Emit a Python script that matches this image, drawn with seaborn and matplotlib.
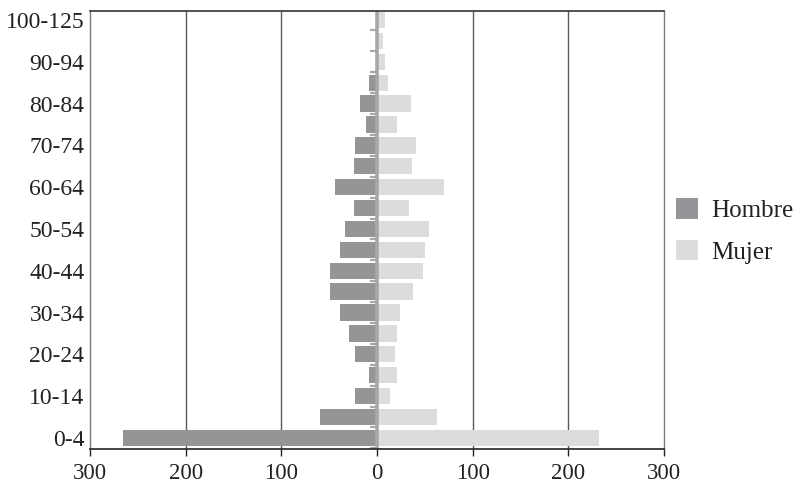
import matplotlib
matplotlib.use("Agg")
import matplotlib.pyplot as plt
import matplotlib.patches as mpatches
from matplotlib.ticker import FuncFormatter
import seaborn as sns
import pandas as pd

ages = ["0-4", "5-9", "10-14", "15-19", "20-24", "25-29", "30-34", "35-39",
        "40-44", "45-49", "50-54", "55-59", "60-64", "65-69", "70-74",
        "75-79", "80-84", "85-89", "90-94", "95-99", "100-125"]
hombre = [265, 60, 23, 8, 23, 29, 39, 49, 49, 39, 33, 24, 44, 24, 23, 12, 18, 8, 0, 0, 0]
mujer = [232, 63, 14, 21, 19, 21, 24, 38, 48, 50, 54, 33, 70, 37, 41, 21, 36, 11, 8, 6, 8]
xticks = [-300, -200, -100, 0, 100, 200, 300]

c_h = "#949598"
c_m = "#dcdcde"

sns.set_theme(style="white")
plt.rcParams["font.family"] = ["Liberation Serif", "DejaVu Serif"]

df = pd.DataFrame({
    "age": ages * 2,
    "sexo": ["Hombre"] * len(ages) + ["Mujer"] * len(ages),
    "valor": [-v for v in hombre] + list(mujer),
})
order = ages[::-1]

fig = plt.figure(figsize=(8.03, 4.92), dpi=100)
ax = fig.add_axes([90 / 803, 1 - 449 / 492, (664 - 90) / 803, (449 - 11) / 492])

sns.barplot(data=df, x="valor", y="age", hue="sexo", order=order,
            hue_order=["Hombre", "Mujer"], palette={"Hombre": c_h, "Mujer": c_m},
            dodge=False, width=0.78, linewidth=0, ax=ax, zorder=3)

n = len(ages)
ax.set_xlim(-300, 300)
ax.set_ylim(n - 0.47, -0.43)

for gx in [-200, -100, 100, 200]:
    ax.axvline(gx, color="#5a5a5a", lw=1.0, zorder=1)
ax.axvline(0, color="#a7a7aa", lw=2.6, zorder=4)
ax.hlines([k - 0.5 for k in range(n + 1)], -7, 0, color="#a7a7aa", lw=1.6, zorder=4)

ax.set_xticks(xticks)
ax.xaxis.set_major_formatter(FuncFormatter(lambda v, p: f"{abs(int(v))}"))
ax.tick_params(axis="x", direction="out", length=5, width=1, color="#222222",
               labelsize=16.5, pad=5, bottom=True, labelcolor="#222222")

ypos = [order.index(a) for a in ages[::2]]
ax.set_yticks(ypos)
ax.set_yticklabels(ages[::2])
ax.tick_params(axis="y", length=0, labelsize=17, pad=4, labelcolor="#222222")

ax.set_xlabel("")
ax.set_ylabel("")

for s in ["left", "right"]:
    ax.spines[s].set_color("#7a7a7a")
    ax.spines[s].set_linewidth(1.0)
ax.spines["top"].set_color("#333333")
ax.spines["top"].set_linewidth(1.2)
ax.spines["bottom"].set_color("#222222")
ax.spines["bottom"].set_linewidth(1.2)
for s in ax.spines.values():
    s.set_zorder(5)

if ax.get_legend() is not None:
    ax.get_legend().remove()
handles = [mpatches.Patch(facecolor=c_h, edgecolor="none"),
           mpatches.Patch(facecolor=c_m, edgecolor="none")]
fig.legend(handles, ["Hombre", "Mujer"], loc="center left",
           bbox_to_anchor=(674 / 803, 1 - 231 / 492), frameon=False,
           fontsize=18, handlelength=0.88, handleheight=0.88,
           handletextpad=0.52, labelspacing=0.7, borderaxespad=0, borderpad=0.1,
           labelcolor="#222222")

fig.savefig("out.png", dpi=100)
